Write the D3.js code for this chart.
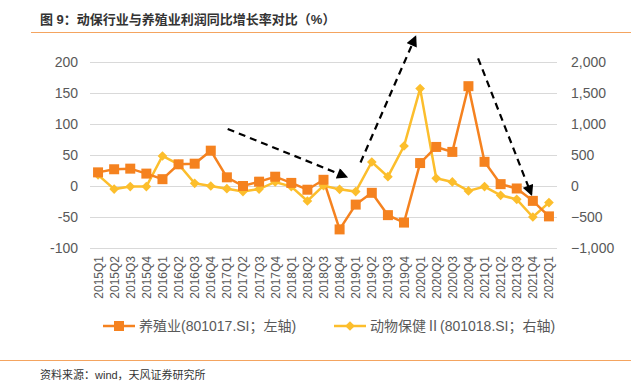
<!DOCTYPE html>
<html>
<head>
<meta charset="utf-8">
<script src="https://cdn.jsdelivr.net/npm/d3@7"></script>
<style>
  body { margin: 0; background: #fff; }
  svg text { font-family: "Liberation Sans", "Noto Sans CJK SC", sans-serif; }
</style>
</head>
<body>
<div id="viz"></div>
<script>
// quarters on the x axis
let quarters = ["2015Q1","2015Q2","2015Q3","2015Q4","2016Q1","2016Q2","2016Q3","2016Q4",
    "2017Q1","2017Q2","2017Q3","2017Q4","2018Q1","2018Q2","2018Q3","2018Q4",
    "2019Q1","2019Q2","2019Q3","2019Q4","2020Q1","2020Q2","2020Q3","2020Q4",
    "2021Q1","2021Q2","2021Q3","2021Q4","2022Q1"];

// 养殖业 (left axis, %)
let farming = [22, 27, 28, 20, 11, 35, 36, 57, 14, 0, 7, 15, 5, -6, 10, -70,
    -30, -11, -47, -59, 37, 63, 55, 161, 39, 3, -4, -24, -49];

// 动物保健II (right axis, %)
let animal_health = [180, -50, -10, -10, 484, 350, 43, 0, -43, -90, -50, 65, -10, -242, 5, -54,
    -90, 387, 151, 645, 1571, 124, 65, -80, -10, -150, -215, -500, -268];

let left_ticks = [-100, -50, 0, 50, 100, 150, 200];
let right_ticks = [-1000, -500, 0, 500, 1000, 1500, 2000];

// trend arrows, in (category index, left axis value)
let arrows = [
    {from: [8.05, 92], to: [15.4, 15]},
    {from: [16.3, 38], to: [19.7, 240]},
    {from: [23.6, 206], to: [26.9, -13]}
];

let orange = "#F5821F", yellow = "#FCBE2C", grey_txt = "#595959";

let width = 631, height = 381;
let svg = d3.select("#viz").append("svg")
    .attr("width", width).attr("height", height);

// header
svg.append("text")
    .attr("x", 40).attr("y", 24)
    .attr("font-size", 13).attr("font-weight", "bold")
    .attr("fill", "#333")
    .text("图 9：动保行业与养殖业利润同比增长率对比（%）");
svg.append("line")
    .attr("x1", 31).attr("x2", width).attr("y1", 32.5).attr("y2", 32.5)
    .attr("stroke", "#F4A460").attr("stroke-width", 1.2);

let x = d3.scaleBand().domain(quarters).range([90, 557]);
let xi = d3.scaleLinear().domain([0, quarters.length - 1])
    .range([x(quarters[0]) + x.bandwidth() / 2, x(quarters[quarters.length - 1]) + x.bandwidth() / 2]);
let yl = d3.scaleLinear().domain([-100, 200]).range([248, 62]);
let yr = d3.scaleLinear().domain([-1000, 2000]).range([248, 62]);

// grid
svg.append("g").selectAll("line").data(left_ticks).enter()
    .append("line")
    .attr("x1", 90).attr("x2", 557)
    .attr("y1", d => yl(d) + 0.5).attr("y2", d => yl(d) + 0.5)
    .attr("stroke", "#D9D9D9").attr("stroke-width", 1);

// left axis labels
svg.append("g").selectAll("text").data(left_ticks).enter()
    .append("text")
    .attr("x", 78).attr("y", d => yl(d) + 5)
    .attr("text-anchor", "end").attr("font-size", 14)
    .attr("fill", grey_txt)
    .text(d => d);

// right axis labels
svg.append("g").selectAll("text").data(right_ticks).enter()
    .append("text")
    .attr("x", 571).attr("y", d => yr(d) + 5)
    .attr("font-size", 14)
    .attr("fill", grey_txt)
    .text(d => d3.format(",")(d));

// x labels, rotated
svg.append("g").selectAll("text").data(quarters).enter()
    .append("text")
    .attr("transform", d => "translate(" + (x(d) + x.bandwidth() / 2 + 4.5) + ",256) rotate(-90)")
    .attr("text-anchor", "end").attr("font-size", 12)
    .attr("fill", grey_txt)
    .text(d => d);

// series
let line_l = d3.line().x((d, i) => xi(i)).y(d => yl(d));
let line_r = d3.line().x((d, i) => xi(i)).y(d => yr(d));

svg.append("path").datum(animal_health)
    .attr("d", line_r).attr("fill", "none")
    .attr("stroke", yellow).attr("stroke-width", 2.5);
svg.append("path").datum(farming)
    .attr("d", line_l).attr("fill", "none")
    .attr("stroke", orange).attr("stroke-width", 2.5);

let diamond = d3.symbol().type(d3.symbolDiamond2).size(60);
let square = d3.symbol().type(d3.symbolSquare).size(100);

svg.append("g").selectAll("path").data(animal_health).enter()
    .append("path")
    .attr("d", diamond)
    .attr("transform", (d, i) => "translate(" + xi(i) + "," + yr(d) + ")")
    .attr("fill", yellow);

svg.append("g").selectAll("path").data(farming).enter()
    .append("path")
    .attr("d", square)
    .attr("transform", (d, i) => "translate(" + xi(i) + "," + yl(d) + ")")
    .attr("fill", orange);

// dashed trend arrows
svg.append("defs").append("marker")
    .attr("id", "head")
    .attr("viewBox", "0 0 10 10")
    .attr("refX", 8).attr("refY", 5)
    .attr("markerWidth", 5.5).attr("markerHeight", 5)
    .attr("markerUnits", "strokeWidth")
    .attr("orient", "auto")
    .append("path").attr("d", "M0,0 L10,5 L0,10 z").attr("fill", "#000");

svg.append("g").selectAll("line").data(arrows).enter()
    .append("line")
    .attr("x1", d => xi(d.from[0])).attr("y1", d => yl(d.from[1]))
    .attr("x2", d => xi(d.to[0])).attr("y2", d => yl(d.to[1]))
    .attr("stroke", "#000").attr("stroke-width", 2.2)
    .attr("stroke-dasharray", "7,5")
    .attr("marker-end", "url(#head)");

// legend
let legend = [
    {label: "养殖业(801017.SI；左轴)", color: orange, sym: square, x: 103},
    {label: "动物保健Ⅱ(801018.SI；右轴)", color: yellow, sym: diamond, x: 334}
];
let lg = svg.append("g").selectAll("g").data(legend).enter()
    .append("g").attr("transform", d => "translate(" + d.x + ",326)");
lg.append("line").attr("x1", 0).attr("x2", 32)
    .attr("stroke", d => d.color).attr("stroke-width", 2.5);
lg.append("path").attr("d", d => d.sym()).attr("transform", "translate(16,0)")
    .attr("fill", d => d.color);
lg.append("text").attr("x", 36).attr("y", 5)
    .attr("font-size", 14).attr("fill", grey_txt)
    .text(d => d.label);

// footer
svg.append("line")
    .attr("x1", 0).attr("x2", width).attr("y1", 360.5).attr("y2", 360.5)
    .attr("stroke", "#F4A460").attr("stroke-width", 1.2);
svg.append("text")
    .attr("x", 40).attr("y", 379)
    .attr("font-size", 11).attr("fill", "#333")
    .text("资料来源：wind，天风证券研究所");
</script>
</body>
</html>
